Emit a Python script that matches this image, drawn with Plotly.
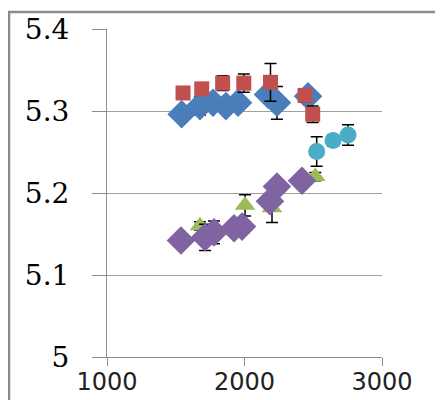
import plotly.graph_objects as go

# ---- data ----
blue_x = [1543, 1676, 1771, 1865, 1953, 2171, 2236, 2462]
blue_y = [5.296, 5.306, 5.310, 5.306, 5.310, 5.320, 5.310, 5.318]
blue_err = [0.005, 0.011, 0.005, 0.005, 0.007, 0.008, 0.020, 0.006]

red_x = [1553, 1689, 1841, 1995, 2189, 2440, 2496]
red_y = [5.322, 5.327, 5.334, 5.334, 5.335, 5.319, 5.296]
red_err = [0.006, 0.006, 0.009, 0.011, 0.023, 0.008, 0.010]

green_x = [1676, 2004, 2200, 2515]
green_y = [5.160, 5.185, 5.182, 5.220]
green_err = [0.005, 0.013, 0.018, 0.005]

purple_x = [1538, 1713, 1778, 1924, 1982, 2185, 2236, 2418]
purple_y = [5.142, 5.146, 5.152, 5.157, 5.159, 5.190, 5.208, 5.215]
purple_err = [0.005, 0.016, 0.014, 0.005, 0.005, 0.005, 0.005, 0.005]

cyan_x = [2525, 2644, 2753]
cyan_y = [5.2506, 5.264, 5.2707]
cyan_err = [0.018, 0.007, 0.0125]

y_ticks = [5, 5.1, 5.2, 5.3, 5.4]
y_ticktext = ["5", "5.1", "5.2", "5.3", "5.4"]
x_ticks = [1000, 2000, 3000]
x_ticktext = ["1000", "2000", "3000"]

fig = go.Figure()

def add(x, y, err, color, symbol, size):
    fig.add_trace(go.Scatter(
        x=x, y=y, mode="markers",
        marker=dict(color=color, symbol=symbol, size=size, line=dict(width=0)),
        error_y=dict(type="data", array=err, visible=True, color="black",
                     thickness=1.5, width=6),
        showlegend=False, cliponaxis=False,
    ))

add(blue_x, blue_y, blue_err, "#4A7EBB", "diamond", 22)
add(red_x, red_y, red_err, "#C0504D", "square", 15)
add(green_x, green_y, green_err, "#9BBB59", "triangle-up", 18)
add(purple_x, purple_y, purple_err, "#8064A2", "diamond", 22)
add(cyan_x, cyan_y, cyan_err, "#4BACC6", "circle", 17)

# page body has an 8px margin, so the figure is sized/placed to compensate
fig.update_layout(
    width=435, height=392,
    margin=dict(l=99, r=61, t=21, b=43, autoexpand=False),
    paper_bgcolor="white", plot_bgcolor="white",
    shapes=[dict(type="rect", xref="paper", yref="paper",
                 x0=-0.3564, x1=1.4, y0=-0.4, y1=1.0518,
                 line=dict(color="#8a8a8a", width=2.5), fillcolor="rgba(0,0,0,0)")],
)
fig.update_xaxes(
    range=[1000, 3000], tickvals=x_ticks, ticktext=x_ticktext, automargin=False,
    showgrid=False, zeroline=False, showline=True, linecolor="#8c8c8c", linewidth=1,
    ticks="outside", ticklen=8, tickcolor="#8c8c8c", ticklabelstandoff=-5,
    tickfont=dict(family="DejaVu Sans", size=24, color="#222222"),
)
fig.update_yaxes(
    range=[5, 5.4], tickvals=y_ticks, ticktext=y_ticktext, automargin=False,
    showgrid=True, gridcolor="#a0a0a0", gridwidth=1,
    zeroline=False, showline=True, linecolor="#8c8c8c", linewidth=1,
    ticks="outside", ticklen=14, tickcolor="#8c8c8c", ticklabelstandoff=17,
    tickfont=dict(family="DejaVu Serif", size=28, color="black"),
)

fig.write_html("out.html")
